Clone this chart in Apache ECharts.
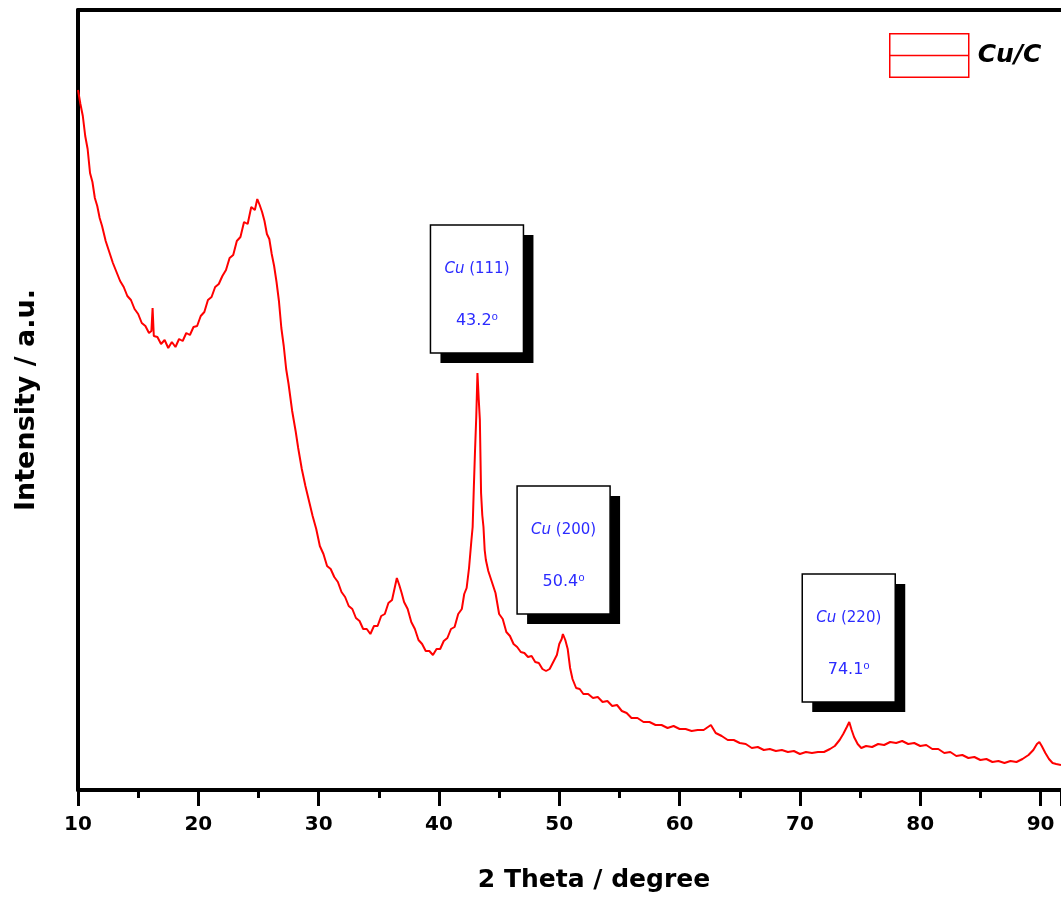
<!DOCTYPE html>
<html>
<head>
<meta charset="utf-8">
<script src="https://cdn.jsdelivr.net/npm/echarts@6/dist/echarts.min.js"></script>
<style>
  html, body { margin: 0; padding: 0; background: #fff; }
  #chart { width: 1061px; height: 901px; }
</style>
</head>
<body>
<div id="chart"></div>
<script>
// XRD 数据 (2θ / 强度, 任意单位)
const twoTheta = [
  10.0, 10.2, 10.4, 10.6, 10.8, 11.0, 11.2, 11.4, 11.6, 11.8, 12.0, 12.3, 12.6, 12.9, 13.2, 13.5, 13.8, 14.1, 14.4, 14.7,
  15.0, 15.3, 15.6, 15.9, 16.1, 16.2, 16.3, 16.6, 16.9, 17.2, 17.5, 17.8, 18.1, 18.4, 18.7, 19.0, 19.3, 19.6, 19.9, 20.2,
  20.5, 20.8, 21.1, 21.4, 21.7, 22.0, 22.3, 22.6, 22.9, 23.2, 23.5, 23.8, 24.1, 24.4, 24.7, 24.9, 25.1, 25.3, 25.5, 25.7,
  25.9, 26.1, 26.3, 26.5, 26.7, 26.9, 27.1, 27.3, 27.5, 27.8, 28.1, 28.3, 28.6, 28.9, 29.2, 29.5, 29.8, 30.1, 30.4, 30.7,
  31.0, 31.3, 31.6, 31.9, 32.2, 32.5, 32.8, 33.1, 33.4, 33.7, 34.0, 34.3, 34.6, 34.9, 35.2, 35.5, 35.8, 36.1, 36.3, 36.5,
  36.7, 36.9, 37.1, 37.4, 37.7, 38.0, 38.3, 38.6, 38.9, 39.2, 39.5, 39.8, 40.1, 40.4, 40.7, 41.0, 41.3, 41.6, 41.9, 42.1,
  42.3, 42.5, 42.7, 42.8, 42.9, 43.0, 43.1, 43.2, 43.3, 43.4, 43.5, 43.6, 43.7, 43.8, 43.9, 44.1, 44.4, 44.7, 45.0, 45.3,
  45.6, 45.9, 46.2, 46.5, 46.8, 47.1, 47.4, 47.7, 48.0, 48.3, 48.6, 48.9, 49.2, 49.5, 49.8, 50.0, 50.2, 50.3, 50.5, 50.7,
  50.9, 51.1, 51.4, 51.7, 52.0, 52.4, 52.8, 53.2, 53.6, 54.0, 54.4, 54.8, 55.2, 55.6, 56.0, 56.5, 57.0, 57.5, 58.0, 58.5,
  59.0, 59.5, 60.0, 60.5, 61.0, 61.5, 62.0, 62.6, 63.0, 63.5, 64.0, 64.5, 65.0, 65.5, 66.0, 66.5, 67.0, 67.5, 68.0, 68.5,
  69.0, 69.5, 70.0, 70.5, 71.0, 71.5, 72.0, 72.5, 72.9, 73.3, 73.6, 73.9, 74.1, 74.3, 74.5, 74.8, 75.1, 75.5, 76.0, 76.5,
  77.0, 77.5, 78.0, 78.5, 79.0, 79.5, 80.0, 80.5, 81.0, 81.5, 82.0, 82.5, 83.0, 83.5, 84.0, 84.5, 85.0, 85.5, 86.0, 86.5,
  87.0, 87.5, 88.0, 88.5, 89.0, 89.4, 89.7, 89.9, 90.1, 90.4, 90.7, 91.0, 91.3, 91.7
];
const intensity = [
  700, 686, 674, 654, 641, 617, 608, 592, 584, 572, 564, 549, 538, 527, 518, 509, 503, 494, 490, 481,
  476, 467, 464, 457, 459, 482, 454, 453, 446, 450, 442, 448, 443, 451, 449, 457, 455, 463, 464, 474,
  478, 490, 493, 503, 506, 514, 520, 532, 535, 549, 553, 568, 566, 583, 580, 591, 585, 578, 569, 556,
  551, 536, 524, 508, 489, 462, 444, 421, 406, 379, 358, 342, 321, 304, 289, 274, 261, 244, 236, 224,
  221, 213, 208, 198, 193, 184, 181, 172, 169, 161, 161, 156, 164, 164, 174, 176, 187, 190, 201, 212,
  205, 197, 188, 181, 168, 161, 150, 146, 139, 139, 135, 141, 141, 149, 152, 161, 163, 176, 181, 196,
  202, 222, 250, 263, 303, 340, 373, 417, 392, 370, 297, 275, 263, 240, 230, 219, 208, 197, 176, 171,
  158, 154, 146, 143, 138, 137, 133, 134, 128, 127, 121, 119, 121, 128, 135, 146, 151, 156, 150, 141,
  122, 111, 102, 101, 96, 96, 92, 93, 88, 89, 84, 85, 79, 77, 72, 72, 68, 68, 65, 65,
  62, 64, 61, 61, 59, 60, 60, 65, 57, 54, 50, 50, 47, 46, 42, 43, 40, 41, 39, 40,
  38, 39, 36, 38, 37, 38, 38, 41, 44, 50, 56, 63, 68, 60, 53, 46, 42, 44, 43, 46,
  45, 48, 47, 49, 46, 47, 44, 45, 41, 41, 37, 38, 34, 35, 32, 33, 30, 31, 28, 29,
  27, 29, 28, 31, 35, 40, 46, 48, 44, 37, 31, 27, 26, 25
];

// 峰位标注
const peakTheta = [43.2, 50.4, 74.1];
const peakPlane = ['(111)', '(200)', '(220)'];
const peakLabel = ['43.2', '50.4', '74.1'];

const seriesName = 'Cu/C';
const xTicks = { min: 10, max: 91.7, interval: 10 };

const FONT = 'DejaVu Sans';
const chart = echarts.init(document.getElementById('chart'));

chart.setOption({
  animation: false,
  backgroundColor: '#fff',
  grid: { left: 78, right: 0, top: 10, bottom: 111 },
  legend: {
    left: 884,
    top: 28,
    data: [seriesName],
    icon: 'path://M0,0H80V44H0ZM0,22H80',
    itemWidth: 79,
    itemHeight: 44,
    itemStyle: { color: 'rgba(0,0,0,0)', borderColor: '#ff0000', borderWidth: 1.5 },
    textStyle: {
      fontFamily: FONT, fontSize: 25, fontWeight: 'bold', fontStyle: 'italic',
      color: '#000', padding: [0, 0, 0, 4]
    }
  },
  xAxis: [{
    type: 'value',
    min: xTicks.min,
    max: xTicks.max,
    interval: xTicks.interval,
    name: '2 Theta / degree',
    nameLocation: 'middle',
    nameGap: 78,
    nameTextStyle: { fontFamily: FONT, fontSize: 25, fontWeight: 'bold', color: '#000', padding: [0, 0, 0, 49] },
    axisLine: { show: true, onZero: false, lineStyle: { color: '#000', width: 4 } },
    axisTick: { show: true, inside: false, length: 16, lineStyle: { color: '#000', width: 3 } },
    minorTick: { show: true, splitNumber: 2, length: 8, lineStyle: { color: '#000', width: 3 } },
    axisLabel: { fontFamily: FONT, fontSize: 20, fontWeight: 'bold', color: '#000', margin: 25, showMaxLabel: false },
    splitLine: { show: false }
  }, {
    type: 'value',
    position: 'top',
    min: xTicks.min,
    max: xTicks.max,
    axisLine: { show: true, onZero: false, lineStyle: { color: '#000', width: 4 } },
    axisTick: { show: false },
    axisLabel: { show: false },
    splitLine: { show: false }
  }],
  yAxis: {
    type: 'value',
    min: 0,
    max: 780,
    name: 'Intensity / a.u.',
    nameLocation: 'middle',
    nameGap: 38,
    nameTextStyle: { fontFamily: FONT, fontSize: 27, fontWeight: 'bold', color: '#000' },
    axisLine: { show: true, onZero: false, lineStyle: { color: '#000', width: 4 } },
    axisTick: { show: false },
    axisLabel: { show: false },
    splitLine: { show: false }
  },
  series: [{
    name: seriesName,
    type: 'line',
    showSymbol: false,
    data: twoTheta.map((t, i) => [t, intensity[i]]),
    lineStyle: { color: '#ff0000', width: 2 },
    itemStyle: { color: '#ff0000' }
  }]
});

// ------------------------- 标注框 -------------------------
const boxW = 93, boxH = 128, shadow = 10;
const graphics = [];
peakTheta.forEach((theta, k) => {
  // 取该峰位附近的最大强度作为锚点
  let best = 0;
  twoTheta.forEach((t, i) => {
    if (Math.abs(t - theta) <= 0.4 && intensity[i] > best) best = intensity[i];
  });
  const [px, py] = chart.convertToPixel({ xAxisIndex: 0, yAxisIndex: 0 }, [theta, best]);
  const left = px - 47;
  const top = py - 148;
  graphics.push({
    type: 'rect',
    shape: { x: left + shadow, y: top + shadow, width: boxW, height: boxH },
    style: { fill: '#000' },
    z: 10
  });
  graphics.push({
    type: 'rect',
    shape: { x: left, y: top, width: boxW, height: boxH },
    style: { fill: '#fff', stroke: '#000', lineWidth: 1.5 },
    z: 11
  });
  graphics.push({
    type: 'text',
    x: left + boxW / 2,
    y: top + 44,
    style: {
      text: '{i|Cu} ' + peakPlane[k],
      align: 'center',
      verticalAlign: 'middle',
      fill: '#2b2bff',
      font: '15px "' + FONT + '"',
      rich: { i: { fontStyle: 'italic', fontSize: 15, fontFamily: FONT, fill: '#2b2bff' } }
    },
    z: 12
  });
  graphics.push({
    type: 'text',
    x: left + boxW / 2,
    y: top + 96,
    style: {
      text: peakLabel[k] + '\u2070',
      align: 'center',
      verticalAlign: 'middle',
      fill: '#2b2bff',
      font: '16px "' + FONT + '"'
    },
    z: 12
  });
});
chart.setOption({ graphic: graphics });
</script>
</body>
</html>
